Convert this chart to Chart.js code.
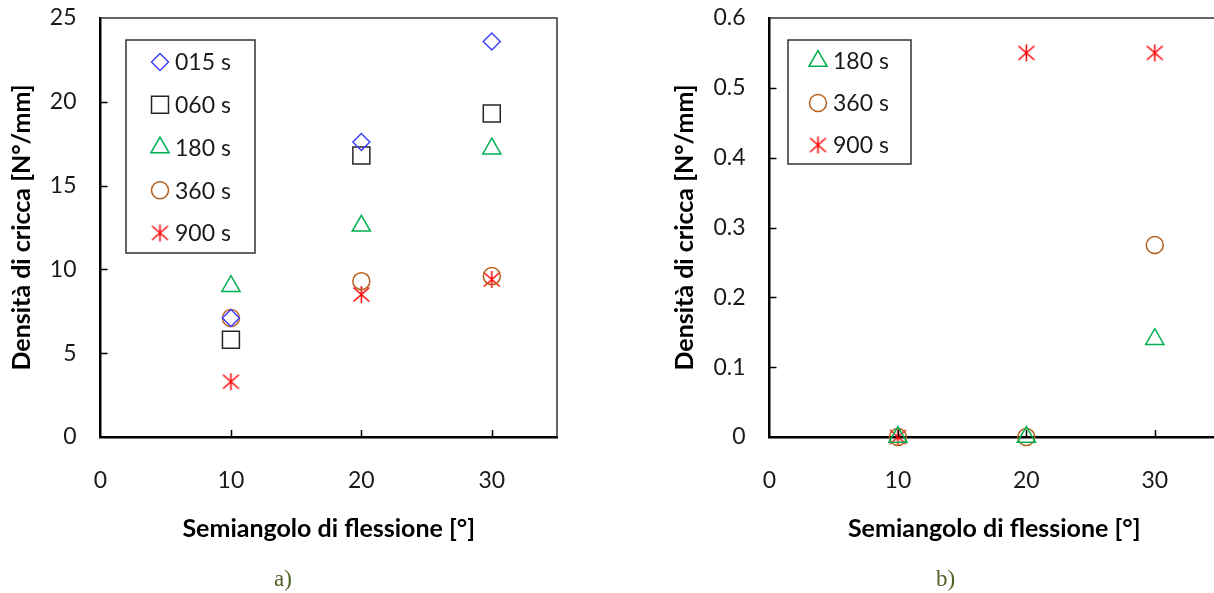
<!DOCTYPE html>
<html>
<head>
<meta charset="utf-8">
<script src="https://cdn.jsdelivr.net/npm/chart.js@4/dist/chart.umd.min.js"></script>
<style>
html, body { margin: 0; padding: 0; background: #fff; overflow: hidden; }
body { width: 1214px; height: 593px; position: relative; }
#wrapA { position: absolute; left: 0; top: 0; }
#wrapB { position: absolute; left: 614px; top: 0; }
.cap { position: absolute; top: 566px; font-family: "Liberation Serif", "DejaVu Serif", serif; font-size: 23px; color: #4f6228; }
</style>
</head>
<body>
<div id="wrapA"><canvas id="chartA" width="600" height="593"></canvas></div>
<div id="wrapB"><canvas id="chartB" width="620" height="593"></canvas></div>
<div class="cap" style="left:274px">a)</div>
<div class="cap" style="left:936px">b)</div>
<script>
// semiangolo di flessione [°]
var angles = [10, 20, 30];

// grafico a)
var labelsA = ["015 s", "060 s", "180 s", "360 s", "900 s"];
var dens015 = [7.1, 17.6, 23.6];
var dens060 = [5.8, 16.8, 19.3];
var dens180 = [9.0, 12.6, 17.2];
var dens360 = [7.1, 9.3, 9.6];
var dens900 = [3.3, 8.5, 9.4];

// grafico b)
var labelsB = ["180 s", "360 s", "900 s"];
var densB180 = [0, 0, 0.14];
var densB360 = [0, 0, 0.275];
var densB900 = [0, 0.55, 0.55];

var xTitle = "Semiangolo di flessione [°]";
var yTitle = "Densità di cricca [N°/mm]";

var FONT = "Lato, 'Open Sans', sans-serif";

// asterisco stile excel (X + linea verticale)
function starMarker(color){
	var c = document.createElement("canvas");
	c.width = 19; c.height = 19;
	var g = c.getContext("2d");
	g.strokeStyle = color;
	g.lineWidth = 1.5;
	g.beginPath();
	g.moveTo(9.5, 1); g.lineTo(9.5, 18);
	g.moveTo(1.5, 2.5); g.lineTo(17.5, 16.5);
	g.moveTo(17.5, 2.5); g.lineTo(1.5, 16.5);
	g.stroke();
	return c;
}

var styles = {
	"015 s": { pointStyle: "rectRot", color: "#4040ff", r: 8.5 },
	"060 s": { pointStyle: "rect", color: "#262626", r: 12 },
	"180 s": { pointStyle: "triangle", color: "#00b050", r: 10.5 },
	"360 s": { pointStyle: "circle", color: "#b5601d", r: 8.5 },
	"900 s": { pointStyle: starMarker("#ff0000"), color: "#ff0000", r: 9 }
};

function makeSet(label, values){
	var s = styles[label];
	return {
		label: label,
		data: angles.map(function(a, i){ return { x: a, y: values[i] }; }),
		pointStyle: s.pointStyle,
		pointRadius: s.r,
		pointBorderColor: s.color,
		pointBackgroundColor: "rgba(0,0,0,0)",
		pointBorderWidth: 1.5,
		showLine: false,
		clip: false
	};
}

// cornice superiore/destra + tacche interne
var frame = {
	id: "frame",
	afterDraw: function(chart){
		var ctx = chart.ctx, a = chart.chartArea;
		ctx.save();
		ctx.strokeStyle = "#333";
		ctx.lineWidth = 1.5;
		ctx.beginPath();
		ctx.moveTo(a.left, a.top);
		ctx.lineTo(a.right, a.top);
		ctx.lineTo(a.right, a.bottom);
		ctx.stroke();
		ctx.strokeStyle = "#000";
		ctx.lineWidth = 1.5;
		ctx.beginPath();
		var sx = chart.scales.x, sy = chart.scales.y;
		sx.ticks.forEach(function(t){
			if (t.value <= sx.min || t.value >= sx.max) return;
			var px = Math.round(sx.getPixelForValue(t.value)) + 0.5;
			ctx.moveTo(px, a.bottom); ctx.lineTo(px, a.bottom - 7);
		});
		sy.ticks.forEach(function(t){
			if (t.value <= sy.min || t.value >= sy.max) return;
			var py = Math.round(sy.getPixelForValue(t.value)) + 0.5;
			ctx.moveTo(a.left, py); ctx.lineTo(a.left + 7, py);
		});
		ctx.stroke();
		ctx.restore();
	}
};

// legenda dentro l'area del grafico, con riquadro
var boxLegend = {
	id: "boxLegend",
	afterDraw: function(chart, args, o){
		var ctx = chart.ctx, a = chart.chartArea;
		var x = a.left + o.left, y = a.top + o.top;
		ctx.save();
		ctx.fillStyle = "#fff";
		ctx.fillRect(x, y, o.width, o.height);
		ctx.strokeStyle = "#333";
		ctx.lineWidth = 1.5;
		ctx.strokeRect(x, y, o.width, o.height);
		ctx.font = "23px " + FONT;
		ctx.textBaseline = "middle";
		chart.data.datasets.forEach(function(ds, i){
			var cy = y + o.firstRow + i * o.rowGap;
			ctx.strokeStyle = ds.pointBorderColor;
			ctx.fillStyle = "rgba(0,0,0,0)";
			ctx.lineWidth = 1.5;
			Chart.helpers.drawPoint(ctx, {
				pointStyle: ds.pointStyle,
				radius: ds.pointRadius,
				rotation: 0,
				borderWidth: 1.5
			}, x + o.markerX, cy);
			ctx.fillStyle = "#1a1a1a";
			ctx.fillText(ds.label, x + o.textX, cy + 1);
		});
		ctx.restore();
	}
};

function makeOptions(yMax, yStep, yWidth, yTitlePad, legendOpts){
	return {
		responsive: false,
		animation: false,
		events: [],
		layout: { padding: { top: 18, right: legendOpts.padRight, left: 0, bottom: 0 } },
		plugins: {
			legend: { display: false },
			tooltip: { enabled: false },
			boxLegend: legendOpts
		},
		scales: {
			x: {
				type: "linear",
				min: 0, max: 35,
				afterBuildTicks: function(s){ s.ticks = s.ticks.filter(function(t){ return t.value <= 30; }); },
				afterFit: function(s){ s.height = 156; s.paddingLeft = 0; s.paddingRight = 0; },
				ticks: { stepSize: 10, padding: 30, color: "#1a1a1a", font: { family: FONT, size: 23 } },
				grid: { drawOnChartArea: false, drawTicks: false },
				border: { color: "#000", width: 2.5 },
				title: { display: true, text: xTitle, color: "#000", padding: { top: 0, bottom: 49 }, font: { family: FONT, size: 25, weight: "bold" } }
			},
			y: {
				type: "linear",
				min: 0, max: yMax,
				afterFit: function(s){ s.width = yWidth; s.paddingTop = 0; s.paddingBottom = 0; },
				ticks: { stepSize: yStep, padding: 24, color: "#1a1a1a", font: { family: FONT, size: 23 } },
				grid: { drawOnChartArea: false, drawTicks: false },
				border: { color: "#000", width: 2.5 },
				title: { display: true, text: yTitle, color: "#000", padding: { top: yTitlePad, bottom: 0 }, font: { family: FONT, size: 25, weight: "bold" } }
			}
		}
	};
}

new Chart(document.getElementById("chartA"), {
	type: "scatter",
	data: {
		datasets: [
			makeSet(labelsA[0], dens015),
			makeSet(labelsA[1], dens060),
			makeSet(labelsA[2], dens180),
			makeSet(labelsA[3], dens360),
			makeSet(labelsA[4], dens900)
		]
	},
	options: makeOptions(25, 5, 100.5, 7, {
		padRight: 43, left: 25.5, top: 22, width: 129, height: 213,
		firstRow: 22, rowGap: 42.75, markerX: 34, textX: 49
	}),
	plugins: [frame, boxLegend]
});

new Chart(document.getElementById("chartB"), {
	type: "scatter",
	data: {
		datasets: [
			makeSet(labelsB[0], densB180),
			makeSet(labelsB[1], densB360),
			makeSet(labelsB[2], densB900)
		]
	},
	options: makeOptions(0.6, 0.1, 155.5, 56, {
		padRight: 15, left: 18.5, top: 22, width: 123, height: 124,
		firstRow: 21, rowGap: 42, markerX: 30, textX: 45
	}),
	plugins: [frame, boxLegend]
});
</script>
</body>
</html>
